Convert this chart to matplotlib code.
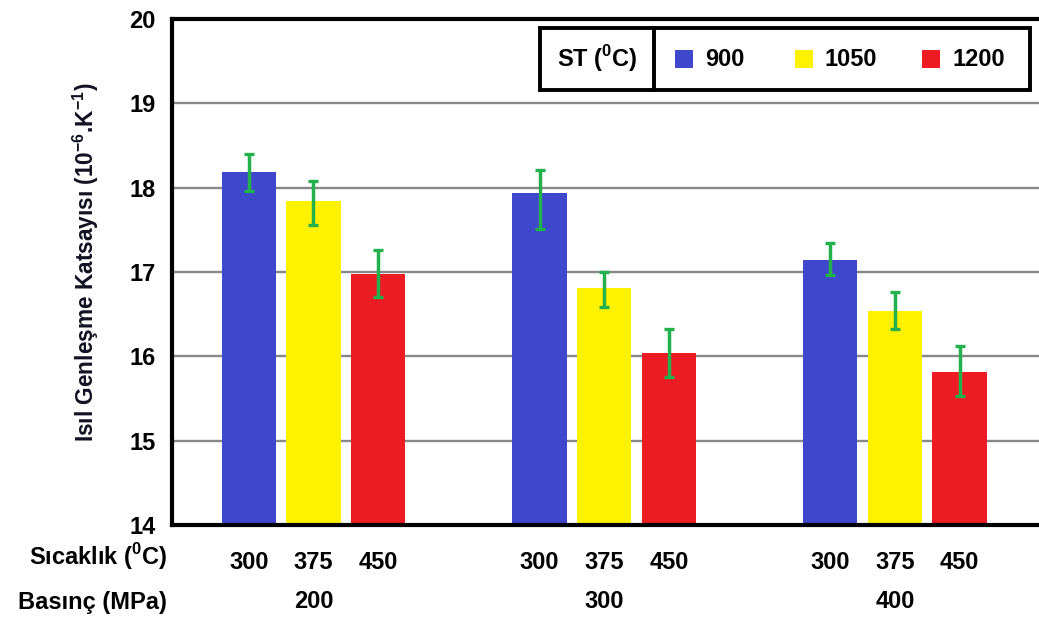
import matplotlib
matplotlib.use("Agg")
import matplotlib.pyplot as plt
import matplotlib.patches as mpatches
import numpy as np

plt.rcParams['font.family'] = ['Liberation Sans', 'DejaVu Sans']
plt.rcParams['font.weight'] = 'bold'

# Thermal expansion coefficient (10^-6 K^-1) by sintering temperature
pressures = ['200', '300', '400']
temperatures = ['300', '375', '450']
series_names = ['900', '1050', '1200']
values_900 = [18.18, 17.94, 17.14]
values_1050 = [17.84, 16.81, 16.54]
values_1200 = [16.98, 16.04, 15.82]
err_up_900 = [0.22, 0.27, 0.20]
err_lo_900 = [0.22, 0.43, 0.18]
err_up_1050 = [0.24, 0.19, 0.22]
err_lo_1050 = [0.28, 0.22, 0.22]
err_up_1200 = [0.28, 0.28, 0.30]
err_lo_1200 = [0.28, 0.29, 0.29]
y_ticks = [14, 15, 16, 17, 18, 19, 20]

colors = ['#3f48cc', '#fff200', '#ed1c24']
err_color = '#22b14c'

W, H = 1039, 621
fig = plt.figure(figsize=(W / 100, H / 100), dpi=100)
ax = fig.add_axes([172 / W, 1 - 525 / H, 1 - 172 / W, (525 - 19) / H])

group_starts = np.array([0.0, 4.5, 9.0])
series = [values_900, values_1050, values_1200]
ups = [err_up_900, err_up_1050, err_up_1200]
los = [err_lo_900, err_lo_1050, err_lo_1200]

for i, (vals, up, lo, c) in enumerate(zip(series, ups, los, colors)):
    xs = group_starts + i
    ax.bar(xs, np.array(vals) - 14, bottom=14, width=0.84, color=c,
           edgecolor='none', zorder=2)
    ax.errorbar(xs, vals, yerr=[lo, up], fmt='none', ecolor=err_color,
                elinewidth=2.5, capsize=3.6, capthick=2.4, zorder=3)

ax.set_xlim(-1.19, 12.23)
ax.set_ylim(14, 20)
ax.set_yticks(y_ticks)
ax.set_yticklabels([str(t) for t in y_ticks], fontsize=17, fontweight='bold')
ax.tick_params(axis='y', length=0, pad=12)
ax.yaxis.grid(True, color='#888888', linewidth=1.7, zorder=0)
ax.set_axisbelow(True)

# Temperature labels under every bar
ax.set_xticks(np.sort(np.concatenate([group_starts + j for j in range(3)])))
ax.set_xticklabels([temperatures[k % 3] for k in range(9)], fontsize=17,
                   fontweight='bold')
ax.tick_params(axis='x', length=0, pad=19)

# Pressure labels under each group
for g, p in zip(group_starts, pressures):
    ax.text(g + 1, -0.152, p, transform=ax.get_xaxis_transform(),
            ha='center', va='center', fontsize=17, fontweight='bold')

deg = r'($^{\mathregular{0}}$C)'
fig.text(167 / W, 1 - 557 / H, 'Sıcaklık ' + deg, ha='right', va='center',
         fontsize=17, fontweight='bold')
fig.text(167 / W, 1 - 602 / H, 'Basınç (MPa)', ha='right', va='center',
         fontsize=17, fontweight='bold')

ax.set_ylabel(r'Isıl Genleşme Katsayısı (10$^{\mathregular{-6}}$.K$^{\mathregular{-1}}$)',
              fontsize=16.3, fontweight='bold', color='#111122')
ax.yaxis.set_label_coords(-(172 - 101) / (W - 172), (525 - 262) / (525 - 19))

for s in ['left', 'top', 'bottom']:
    ax.spines[s].set_linewidth(3)
    ax.spines[s].set_color('black')
ax.spines['right'].set_visible(False)

# Legend box
def fx(px):
    return px / W

def fy(py):
    return 1 - py / H

frame = mpatches.Rectangle((fx(540), fy(90)), fx(1030) - fx(540), fy(28) - fy(90),
                           transform=fig.transFigure, fill=True, facecolor='white',
                           edgecolor='black', linewidth=2.8, zorder=5)
fig.add_artist(frame)
fig.add_artist(plt.Line2D([fx(653.5), fx(653.5)], [fy(90), fy(28)],
                          transform=fig.transFigure, color='black',
                          linewidth=2.8, zorder=6))
fig.text(fx(597), fy(59), 'ST ' + deg, ha='center', va='center', fontsize=17,
         fontweight='bold', zorder=7)
sq_x = [675, 795, 922]
for sx, name, c in zip(sq_x, series_names, colors):
    fig.add_artist(mpatches.Rectangle((fx(sx), fy(68)), fx(18), 18 / H,
                                      transform=fig.transFigure, facecolor=c,
                                      edgecolor='none', zorder=7))
    fig.text(fx(sx + 30), fy(59), name, ha='left', va='center', fontsize=17,
             fontweight='bold', zorder=7)

fig.savefig('out.png', dpi=100)
